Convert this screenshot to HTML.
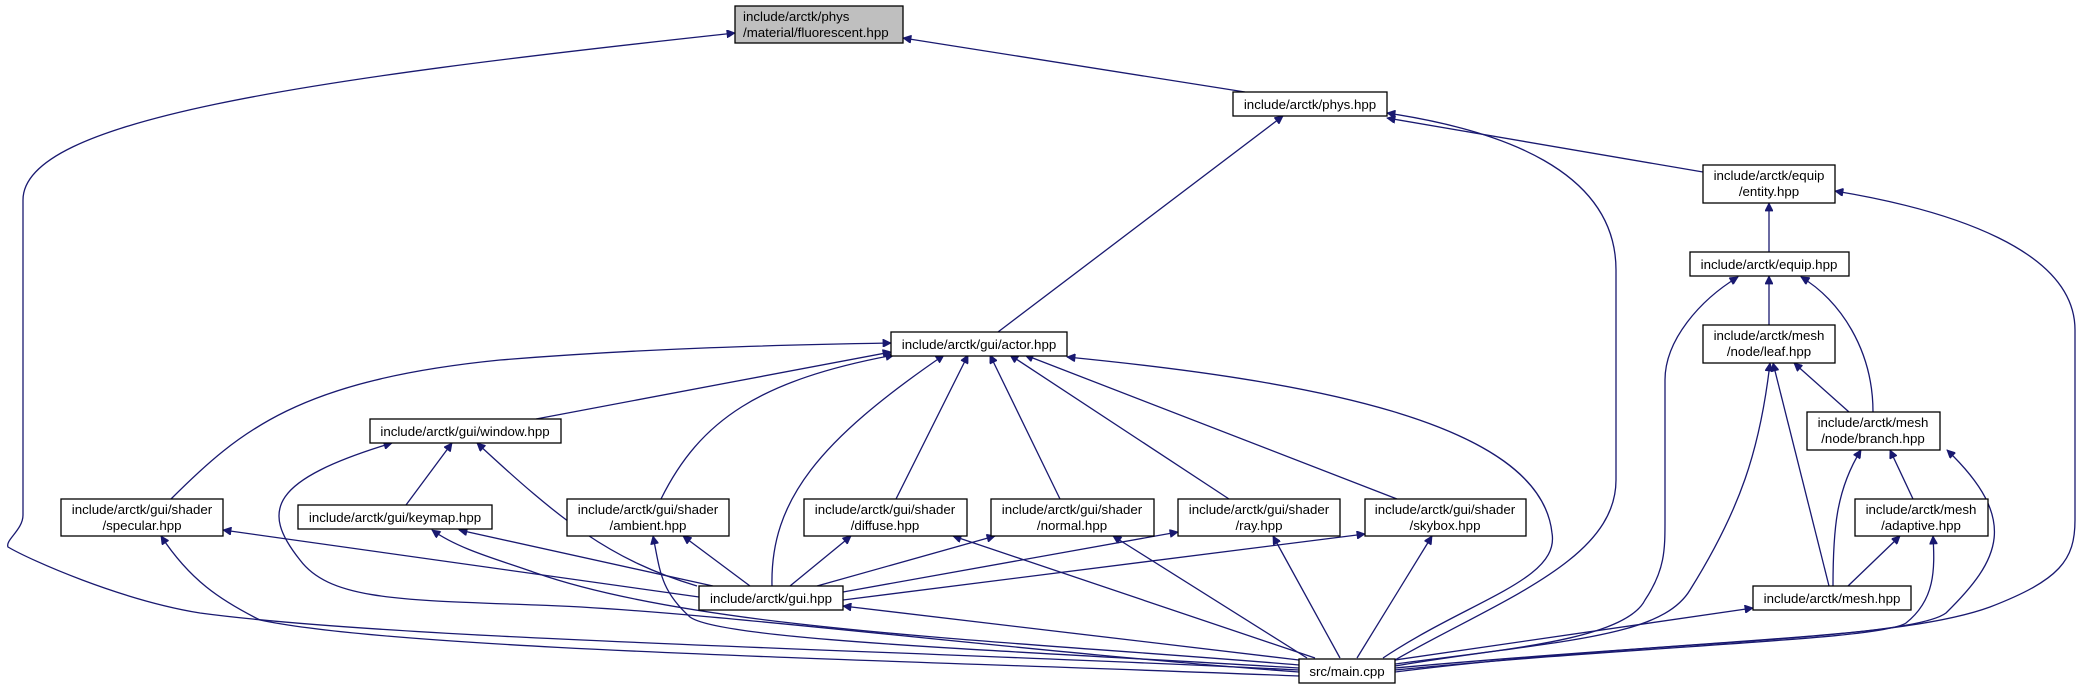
<!DOCTYPE html>
<html><head><meta charset="utf-8"><style>
html,body{margin:0;padding:0;background:#fff;}
svg{display:block;}
text{font-family:"Liberation Sans",Arial,sans-serif;font-size:13.3px;fill:#000;}
.e{fill:none;stroke:#191970;stroke-width:1.3;}
.b{fill:#fff;stroke:#000;stroke-width:1.3;}
</style></head><body>
<svg width="2082" height="689" viewBox="0 0 2082 689" xmlns="http://www.w3.org/2000/svg">
<defs>
<marker id="a" viewBox="0 0 10 10" refX="10" refY="5" markerWidth="11" markerHeight="8" markerUnits="userSpaceOnUse" orient="auto">
<path d="M0,0 L10,5 L0,10 z" fill="#191970" stroke="#191970"/>
</marker>
</defs>
<g class="e" marker-end="url(#a)">
<path d="M1245,92 L903,38"/>
<path d="M1299,670 C900,650 400,640 200,613 C120,600 30,560 8,547 C5,540 23,530 23,515 L23,200 C23,120 300,80 735,33"/>
<path d="M998,332 L1283,116"/>
<path d="M1395,660 C1500,600 1616,560 1616,480 L1616,270 C1616,170 1500,130 1387,113"/>
<path d="M1703,172 L1387,118"/>
<path d="M1769,252 L1769,203"/>
<path d="M1395,668 C1700,640 1900,640 1990,607 C2060,580 2075,560 2075,520 L2075,330 C2075,250 1950,210 1835,191"/>
<path d="M1769,325 L1769,276"/>
<path d="M1873,412 C1873,350 1840,300 1801,277"/>
<path d="M1395,664 C1500,650 1625,640 1645,600 C1665,570 1665,550 1665,520 L1665,380 C1665,340 1700,300 1738,277"/>
<path d="M1849,412 L1794,363"/>
<path d="M1829,586 L1773,363"/>
<path d="M1395,666 C1550,640 1660,640 1690,590 C1740,510 1760,450 1770,363"/>
<path d="M1833,586 C1833,530 1836,490 1861,450"/>
<path d="M1913,499 L1890,450"/>
<path d="M1395,672 C1650,640 1910,640 1946,613 C2000,560 2020,520 1947,450"/>
<path d="M1848,586 L1900,536"/>
<path d="M1395,670 C1650,645 1880,640 1906,623 C1935,600 1935,570 1933,536"/>
<path d="M1395,660 L1753,608"/>
<path d="M536,419 L891,352"/>
<path d="M171,499 C240,430 300,380 500,360 C650,348 780,345 891,343"/>
<path d="M661,499 C700,420 760,380 894,355"/>
<path d="M772,586 C770,500 820,440 944,355"/>
<path d="M896,499 L968,355"/>
<path d="M1060,499 L990,355"/>
<path d="M1229,499 L1010,355"/>
<path d="M1397,499 L1025,355"/>
<path d="M1383,658 C1470,600 1560,580 1552,533 C1540,420 1300,380 1067,357"/>
<path d="M406,505 L452,443"/>
<path d="M697,586 C610,560 560,520 477,443"/>
<path d="M1299,672 C1000,650 700,610 536,605 C400,600 330,600 300,560 C260,510 270,480 392,443"/>
<path d="M699,597 L223,530"/>
<path d="M1299,676 C900,660 400,650 260,620 C220,600 190,580 161,536"/>
<path d="M713,586 L459,530"/>
<path d="M1299,665 C1000,640 700,630 536,573 C500,560 460,550 432,530"/>
<path d="M750,586 L683,536"/>
<path d="M1299,668 C1000,650 720,640 690,617 C660,590 660,570 653,536"/>
<path d="M790,586 L851,536"/>
<path d="M1315,658 L953,536"/>
<path d="M817,586 L995,536"/>
<path d="M1307,658 L1113,536"/>
<path d="M843,592 L1178,532"/>
<path d="M1340,658 L1273,536"/>
<path d="M843,600 L1365,534"/>
<path d="M1357,658 L1432,536"/>
<path d="M1299,660 L843,606"/>
</g>
<g>
<rect class="b" x="735" y="6" width="168" height="37" style="fill:#bfbfbf"/>
<text x="743" y="21">include/arctk/phys</text>
<text x="743" y="37">/material/fluorescent.hpp</text>
<rect class="b" x="1233" y="92" width="154" height="24"/>
<text x="1310" y="109" text-anchor="middle">include/arctk/phys.hpp</text>
<rect class="b" x="1703" y="165" width="132" height="38"/>
<text x="1769" y="180" text-anchor="middle">include/arctk/equip</text>
<text x="1769" y="196" text-anchor="middle">/entity.hpp</text>
<rect class="b" x="1690" y="252" width="159" height="24"/>
<text x="1769" y="269" text-anchor="middle">include/arctk/equip.hpp</text>
<rect class="b" x="1703" y="325" width="132" height="38"/>
<text x="1769" y="340" text-anchor="middle">include/arctk/mesh</text>
<text x="1769" y="356" text-anchor="middle">/node/leaf.hpp</text>
<rect class="b" x="1807" y="412" width="133" height="38"/>
<text x="1873" y="427" text-anchor="middle">include/arctk/mesh</text>
<text x="1873" y="443" text-anchor="middle">/node/branch.hpp</text>
<rect class="b" x="1855" y="499" width="133" height="37"/>
<text x="1921" y="514" text-anchor="middle">include/arctk/mesh</text>
<text x="1921" y="530" text-anchor="middle">/adaptive.hpp</text>
<rect class="b" x="1753" y="586" width="158" height="24"/>
<text x="1832" y="603" text-anchor="middle">include/arctk/mesh.hpp</text>
<rect class="b" x="1299" y="659" width="96" height="24"/>
<text x="1347" y="676" text-anchor="middle">src/main.cpp</text>
<rect class="b" x="1365" y="499" width="161" height="37"/>
<text x="1445" y="514" text-anchor="middle">include/arctk/gui/shader</text>
<text x="1445" y="530" text-anchor="middle">/skybox.hpp</text>
<rect class="b" x="1178" y="499" width="162" height="37"/>
<text x="1259" y="514" text-anchor="middle">include/arctk/gui/shader</text>
<text x="1259" y="530" text-anchor="middle">/ray.hpp</text>
<rect class="b" x="991" y="499" width="163" height="37"/>
<text x="1072" y="514" text-anchor="middle">include/arctk/gui/shader</text>
<text x="1072" y="530" text-anchor="middle">/normal.hpp</text>
<rect class="b" x="804" y="499" width="163" height="37"/>
<text x="885" y="514" text-anchor="middle">include/arctk/gui/shader</text>
<text x="885" y="530" text-anchor="middle">/diffuse.hpp</text>
<rect class="b" x="567" y="499" width="162" height="37"/>
<text x="648" y="514" text-anchor="middle">include/arctk/gui/shader</text>
<text x="648" y="530" text-anchor="middle">/ambient.hpp</text>
<rect class="b" x="298" y="505" width="194" height="24"/>
<text x="395" y="522" text-anchor="middle">include/arctk/gui/keymap.hpp</text>
<rect class="b" x="61" y="499" width="162" height="37"/>
<text x="142" y="514" text-anchor="middle">include/arctk/gui/shader</text>
<text x="142" y="530" text-anchor="middle">/specular.hpp</text>
<rect class="b" x="370" y="419" width="191" height="24"/>
<text x="465" y="436" text-anchor="middle">include/arctk/gui/window.hpp</text>
<rect class="b" x="699" y="586" width="144" height="24"/>
<text x="771" y="603" text-anchor="middle">include/arctk/gui.hpp</text>
<rect class="b" x="891" y="332" width="176" height="24"/>
<text x="979" y="349" text-anchor="middle">include/arctk/gui/actor.hpp</text>
</g>
</svg>
</body></html>
